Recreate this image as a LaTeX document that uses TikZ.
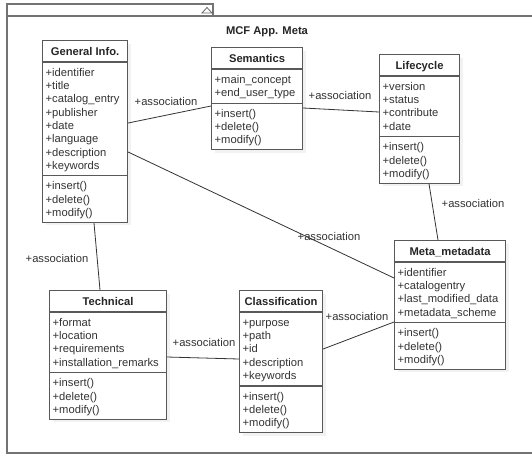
\documentclass[tikz,border=0pt]{standalone}
\usepackage{fontspec}
\setmainfont{Liberation Sans}
\usetikzlibrary{calc,shadows}

\tikzset{
  frameline/.style={draw=black!55, line width=1.2pt},
  classbox/.style={draw=black!65, line width=1.1pt, fill=white, anchor=north west,
    inner sep=0pt, drop shadow={opacity=0.10, shadow xshift=3pt, shadow yshift=-3pt}},
  classline/.style={draw=black!65, line width=1.1pt},
  classtitle/.style={anchor=base, inner sep=0pt, font=\fontsize{11.2}{13}\selectfont\bfseries, text=black!85},
  member/.style={anchor=base west, inner sep=0pt, font=\fontsize{11.2}{13}\selectfont, text=black!80},
  assoc/.style={draw=black!80, line width=0.8pt},
  assoclabel/.style={inner sep=0pt, font=\fontsize{11.2}{13}\selectfont, text=black!80},
}

% \umlclass{name}{(x,y)}{width}{title}{attributes}{operations}
\newcommand\umlclass[6]{%
  \foreach \a [count=\i] in {#5} {\xdef\umlnA{\i}}%
  \pgfmathsetmacro\umlD{22+13.3*\umlnA+7.5}%
  \pgfmathsetmacro\umlH{\umlD+46}%
  \node[classbox, minimum width=#3, minimum height=\umlH pt] (#1) at #2 {};
  \node[classtitle] (#1-title) at ($(#1.north)+(0,15.5)$) {#4};
  \draw[classline] ($(#1.north west)+(0,22)$) -- ($(#1.north east)+(0,22)$);
  \draw[classline] ($(#1.north west)+(0,\umlD)$) -- ($(#1.north east)+(0,\umlD)$);
  \foreach \a [count=\i] in {#5}
    {\node[member] at ($(#1.north west)+(3.5,{22+14.3+13.3*(\i-1)})$) {\a};}
  \foreach \m [count=\i] in {#6}
    {\node[member] at ($(#1.north west)+(3.5,{\umlD+14+13.3*(\i-1)})$) {\m};}
}

\begin{document}
\begin{tikzpicture}[x=1pt, y=-1pt]
  \clip (0,0) rectangle (532,456);
  \fill[white] (0,0) rectangle (532,456);

  % package frame with its tab
  \draw[frameline] (7,4) rectangle (213,16);
  \draw[draw=black!60, line width=0.8pt] (202,13) -- (212,13) -- (207,7.5) -- cycle;
  \draw[frameline] (7,16) rectangle (545,453);
  \node[classtitle] (pkg) at (267,34) {MCF App. Meta};

  % classes
  \umlclass{gen}{(42,40)}{85pt}{General Info.}
    {+identifier,+title,+catalog\_entry,+publisher,+date,+language,+description,+keywords}
    {+insert(),+delete(),+modify()}
  \umlclass{sem}{(211,47)}{91pt}{Semantics}
    {+main\_concept,+end\_user\_type}
    {+insert(),+delete(),+modify()}
  \umlclass{life}{(379,54)}{80pt}{Lifecycle}
    {+version,+status,+contribute,+date}
    {+insert(),+delete(),+modify()}
  \umlclass{meta}{(394,240)}{111pt}{Meta\_metadata}
    {+identifier,+catalogentry,+last\_modified\_data,+metadata\_scheme}
    {+insert(),+delete(),+modify()}
  \umlclass{tech}{(49,290)}{117pt}{Technical}
    {+format,+location,+requirements,+installation\_remarks}
    {+insert(),+delete(),+modify()}
  \umlclass{cls}{(239,290)}{83pt}{Classification}
    {+purpose,+path,+id,+description,+keywords}
    {+insert(),+delete(),+modify()}

  % associations
  \draw[assoc] ($(gen.north east)+(0,83)$) -- ($(sem.north west)+(0,59)$);
  \draw[assoc] ($(sem.north east)+(0,61)$) -- ($(life.north west)+(0,58)$);
  \draw[assoc] ($(gen.north east)+(0,112)$) -- ($(meta.north west)+(0,38)$);
  \draw[assoc] ($(life.south west)+(50,0)$) -- ($(meta.north west)+(44,0)$);
  \draw[assoc] ($(gen.south west)+(52,0)$) -- ($(tech.north west)+(51,0)$);
  \draw[assoc] ($(tech.north east)+(0,67)$) -- ($(cls.north west)+(0,69)$);
  \draw[assoc] ($(cls.north east)+(0,59)$) -- ($(meta.north west)+(0,82)$);

  % association labels
  \node[assoclabel] (l1) at (166,101) {+association};
  \node[assoclabel] (l2) at (340,95) {+association};
  \node[assoclabel] (l3) at (329,236) {+association};
  \node[assoclabel] (l4) at (473,203) {+association};
  \node[assoclabel] (l5) at (57,258) {+association};
  \node[assoclabel] (l6) at (204,342) {+association};
  \node[assoclabel] (l7) at (357,316) {+association};
\end{tikzpicture}
\end{document}
